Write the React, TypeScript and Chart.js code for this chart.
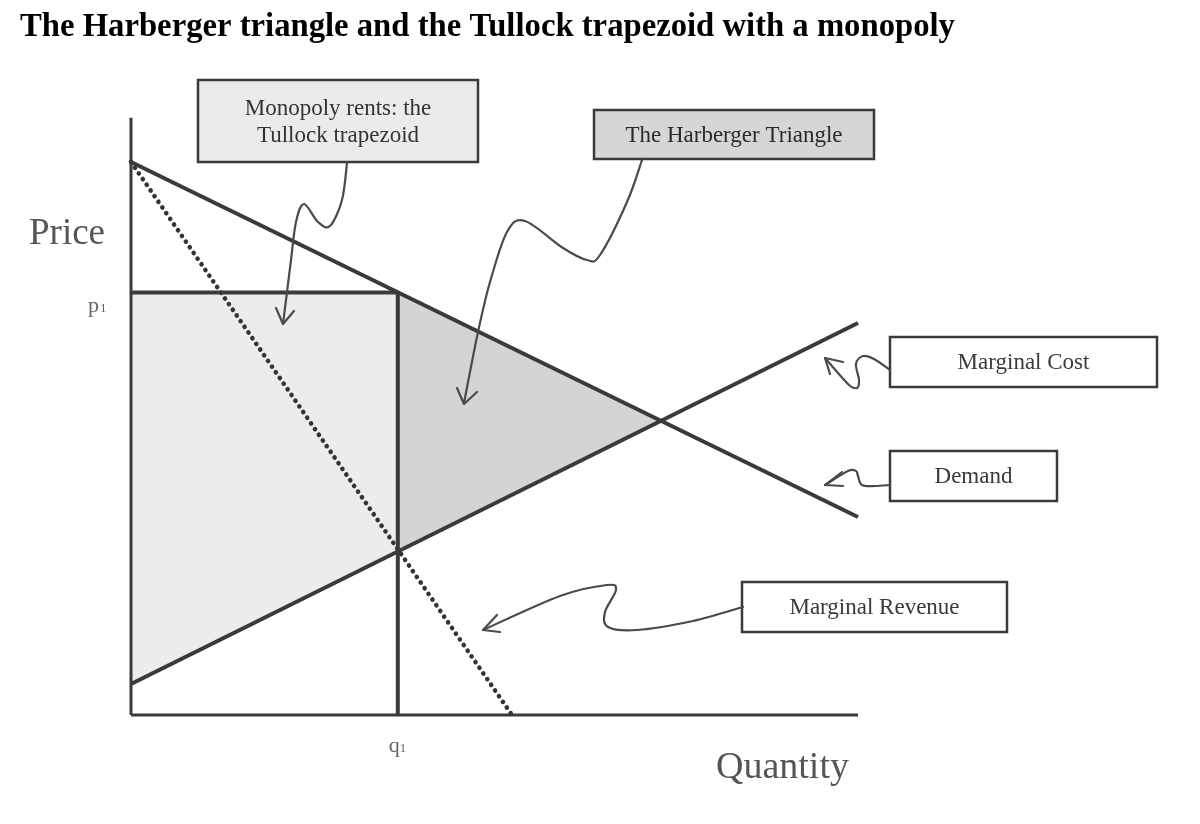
import React, { useEffect, useRef } from "react";
import { Chart, registerables } from "chart.js";

Chart.register(...registerables);

// ---- data (economic units: quantity 0..100, price 0..100) ----
const quantityRange = [0, 100];
const priceRange = [0, 100];
const priceAxisTop = 108;
const demandQuantity = [0, 100];
const demandPrice = [100, 35.8];
const marginalCostQuantity = [0, 100];
const marginalCostPrice = [5.6, 70.9];
const marginalRevenueQuantity = [0, 52.4];
const marginalRevenuePrice = [100, 0];
const monopolyQuantity = 36.7; // q1
const monopolyPrice = 76.4; // p1
const priceTickLabel = ["p", "1"];
const quantityTickLabel = ["q", "1"];
const titleText = "The Harberger triangle and the Tullock trapezoid with a monopoly";
const priceAxisTitle = "Price";
const quantityAxisTitle = "Quantity";
const boxLabels = [
  ["Monopoly rents: the", "Tullock trapezoid"],
  ["The Harberger Triangle"],
  ["Marginal Cost"],
  ["Demand"],
  ["Marginal Revenue"],
];

// line helpers
const lineAt = (qs: number[], ps: number[], q: number) =>
  ps[0] + ((ps[1] - ps[0]) * (q - qs[0])) / (qs[1] - qs[0]);
const slope = (qs: number[], ps: number[]) => (ps[1] - ps[0]) / (qs[1] - qs[0]);

const dS = slope(demandQuantity, demandPrice);
const mS = slope(marginalCostQuantity, marginalCostPrice);
const dI = lineAt(demandQuantity, demandPrice, 0);
const mI = lineAt(marginalCostQuantity, marginalCostPrice, 0);
const eqQuantity = (mI - dI) / (dS - mS);
const eqPrice = dI + dS * eqQuantity;
const mcAtQ1 = lineAt(marginalCostQuantity, marginalCostPrice, monopolyQuantity);

const pts = (qs: number[], ps: number[]) => qs.map((q, i) => ({ x: q, y: ps[i] }));

// ---- decoration layout (pixels) ----
const boxes = [
  { x: 198, y: 80, w: 280, h: 82, fill: "#ebebeb", color: "#333333" },
  { x: 594, y: 110, w: 280, h: 49, fill: "#d6d6d6", color: "#2a2a2a" },
  { x: 890, y: 337, w: 267, h: 50, fill: "#ffffff", color: "#3a3a3a" },
  { x: 890, y: 451, w: 167, h: 50, fill: "#ffffff", color: "#3a3a3a" },
  { x: 742, y: 582, w: 265, h: 50, fill: "#ffffff", color: "#3a3a3a" },
];

const arrows = [
  {
    path: [[347, 163], [342, 200], [330, 226], [318, 222], [304, 204], [296, 222], [291, 260], [283, 324]],
    head: [[276, 308], [283, 324], [294, 311]],
  },
  {
    path: [[642, 160], [627, 202], [600, 255], [587, 260], [563, 248], [525, 221], [507, 232], [490, 282], [478, 332], [464, 403]],
    head: [[457, 388], [464, 404], [477, 392]],
  },
  {
    path: [[890, 370], [874, 359], [863, 356], [856, 364], [859, 380], [857, 388], [848, 384], [825, 358]],
    head: [[843, 362], [825, 358], [830, 374]],
  },
  {
    path: [[890, 485], [875, 486], [862, 485], [858, 476], [856, 471], [848, 471], [825, 485]],
    head: [[842, 472], [825, 485], [843, 486]],
  },
  {
    path: [[743, 607], [693, 621], [637, 630], [608, 627], [605, 612], [616, 590], [607, 585], [560, 596], [483, 630]],
    head: [[497, 615], [483, 630], [500, 632]],
  },
];

function smoothPath(ctx: CanvasRenderingContext2D, p: number[][]) {
  ctx.moveTo(p[0][0], p[0][1]);
  for (let i = 0; i < p.length - 1; i++) {
    const p0 = p[Math.max(0, i - 1)];
    const p1 = p[i];
    const p2 = p[i + 1];
    const p3 = p[Math.min(p.length - 1, i + 2)];
    const c1x = p1[0] + (p2[0] - p0[0]) / 6;
    const c1y = p1[1] + (p2[1] - p0[1]) / 6;
    const c2x = p2[0] - (p3[0] - p1[0]) / 6;
    const c2y = p2[1] - (p3[1] - p1[1]) / 6;
    ctx.bezierCurveTo(c1x, c1y, c2x, c2y, p2[0], p2[1]);
  }
}

const decorPlugin = {
  id: "decor",
  afterDraw(chart: any) {
    const ctx: CanvasRenderingContext2D = chart.ctx;
    const xs = chart.scales.x;
    const ys = chart.scales.y;
    ctx.save();
    // title
    ctx.fillStyle = "#000";
    ctx.font = "bold 32.7px 'Liberation Serif'";
    ctx.textBaseline = "alphabetic";
    ctx.textAlign = "left";
    ctx.fillText(titleText, 20, 36);

    // axis titles
    ctx.fillStyle = "#555";
    ctx.font = "37px 'Liberation Serif'";
    ctx.fillText(priceAxisTitle, 29, 244);
    ctx.font = "38px 'Liberation Serif'";
    ctx.fillText(quantityAxisTitle, 716, 778);

    // tick labels p1, q1
    ctx.fillStyle = "#666";
    const py = ys.getPixelForValue(monopolyPrice);
    ctx.font = "22px 'Liberation Serif'";
    ctx.fillText(priceTickLabel[0], 88, py + 19);
    ctx.font = "13px 'Liberation Serif'";
    ctx.fillText(priceTickLabel[1], 100, py + 19);
    const qx = xs.getPixelForValue(monopolyQuantity);
    ctx.font = "22px 'Liberation Serif'";
    ctx.fillText(quantityTickLabel[0], qx - 9, 752);
    ctx.font = "13px 'Liberation Serif'";
    ctx.fillText(quantityTickLabel[1], qx + 2, 752);

    // boxes
    boxes.forEach((b, i) => {
      ctx.fillStyle = b.fill;
      ctx.fillRect(b.x, b.y, b.w, b.h);
      ctx.strokeStyle = "#3a3a3a";
      ctx.lineWidth = 2.5;
      ctx.strokeRect(b.x, b.y, b.w, b.h);
      ctx.fillStyle = b.color;
      ctx.font = "23px 'Liberation Serif'";
      ctx.textAlign = "center";
      ctx.textBaseline = "middle";
      const lines = boxLabels[i];
      const lh = 27;
      const cy = b.y + b.h / 2 - ((lines.length - 1) * lh) / 2 + 1;
      lines.forEach((t, j) => ctx.fillText(t, b.x + b.w / 2, cy + j * lh));
    });

    // arrows
    ctx.strokeStyle = "#4a4a4a";
    ctx.lineWidth = 2.2;
    ctx.lineCap = "round";
    ctx.lineJoin = "round";
    arrows.forEach((a) => {
      ctx.beginPath();
      smoothPath(ctx, a.path);
      ctx.stroke();
      ctx.beginPath();
      ctx.moveTo(a.head[0][0], a.head[0][1]);
      ctx.lineTo(a.head[1][0], a.head[1][1]);
      ctx.lineTo(a.head[2][0], a.head[2][1]);
      ctx.stroke();
    });
    ctx.restore();
  },
};

const bgPlugin = {
  id: "bg",
  beforeDraw(chart: any) {
    const ctx = chart.ctx;
    ctx.save();
    ctx.fillStyle = "#ffffff";
    ctx.fillRect(0, 0, chart.width, chart.height);
    ctx.restore();
  },
};

const lineColor = "#3a3a3a";

export default function App() {
  const ref = useRef<HTMLCanvasElement | null>(null);
  useEffect(() => {
    if (!ref.current) return;
    const base = { pointRadius: 0, clip: false as any, tension: 0 };
    const chart = new Chart(ref.current, {
      type: "line",
      data: {
        datasets: [
          {
            ...base,
            order: 0,
            label: "Price axis",
            data: [{ x: quantityRange[0], y: priceRange[0] }, { x: quantityRange[0], y: priceAxisTop }],
            borderColor: lineColor,
            borderWidth: 3,
            fill: false,
          },
          {
            ...base,
            order: 0,
            label: "Quantity axis",
            data: [{ x: quantityRange[0], y: priceRange[0] }, { x: quantityRange[1], y: priceRange[0] }],
            borderColor: lineColor,
            borderWidth: 3,
            fill: false,
          },
          {
            ...base,
            order: 0,
            label: "p1",
            data: [{ x: quantityRange[0], y: monopolyPrice }, { x: monopolyQuantity, y: monopolyPrice }],
            borderColor: lineColor,
            borderWidth: 4,
            fill: false,
          },
          {
            ...base,
            order: 0,
            label: "q1",
            data: [{ x: monopolyQuantity, y: priceRange[0] }, { x: monopolyQuantity, y: monopolyPrice }],
            borderColor: lineColor,
            borderWidth: 4,
            fill: false,
          },
          {
            ...base,
            order: 0,
            label: "Demand",
            data: pts(demandQuantity, demandPrice),
            borderColor: lineColor,
            borderWidth: 4,
            fill: false,
          },
          {
            ...base,
            order: 0,
            label: "Marginal Cost",
            data: pts(marginalCostQuantity, marginalCostPrice),
            borderColor: lineColor,
            borderWidth: 4,
            fill: false,
          },
          {
            ...base,
            order: 0,
            label: "Marginal Revenue",
            data: pts(marginalRevenueQuantity, marginalRevenuePrice),
            borderColor: "#333",
            borderWidth: 4.6,
            borderDash: [0.1, 6.8],
            borderCapStyle: "round",
            fill: false,
          },
          {
            ...base,
            order: 10,
            label: "Tullock trapezoid",
            data: [
              { x: quantityRange[0], y: monopolyPrice },
              { x: monopolyQuantity, y: monopolyPrice },
              { x: monopolyQuantity, y: mcAtQ1 },
              { x: quantityRange[0], y: mI },
              { x: quantityRange[0], y: monopolyPrice },
            ],
            borderWidth: 1,
            borderColor: "rgba(0,0,0,0)",
            backgroundColor: "#ececec",
            fill: "shape",
          },
          {
            ...base,
            order: 10,
            label: "Harberger triangle",
            data: [
              { x: monopolyQuantity, y: monopolyPrice },
              { x: eqQuantity, y: eqPrice },
              { x: monopolyQuantity, y: mcAtQ1 },
              { x: monopolyQuantity, y: monopolyPrice },
            ],
            borderWidth: 1,
            borderColor: "rgba(0,0,0,0)",
            backgroundColor: "#d4d4d4",
            fill: "shape",
          },
        ],
      },
      options: {
        responsive: false,
        animation: false,
        events: [],
        devicePixelRatio: 1,
        layout: { padding: { left: 131, right: 342, top: 162, bottom: 109 } },
        plugins: {
          legend: { display: false },
          tooltip: { enabled: false },
          title: { display: false },
          filler: { drawTime: "beforeDatasetsDraw" },
        },
        scales: {
          x: { type: "linear", min: quantityRange[0], max: quantityRange[1], display: false },
          y: { type: "linear", min: priceRange[0], max: priceRange[1], display: false },
        },
      },
      plugins: [bgPlugin, decorPlugin],
    });
    return () => chart.destroy();
  }, []);
  return (
    <div style={{ position: "fixed", left: 0, top: 0, width: 1200, height: 824, background: "#fff" }}>
      <canvas ref={ref} width={1200} height={824} style={{ width: 1200, height: 824, display: "block" }} />
    </div>
  );
}
